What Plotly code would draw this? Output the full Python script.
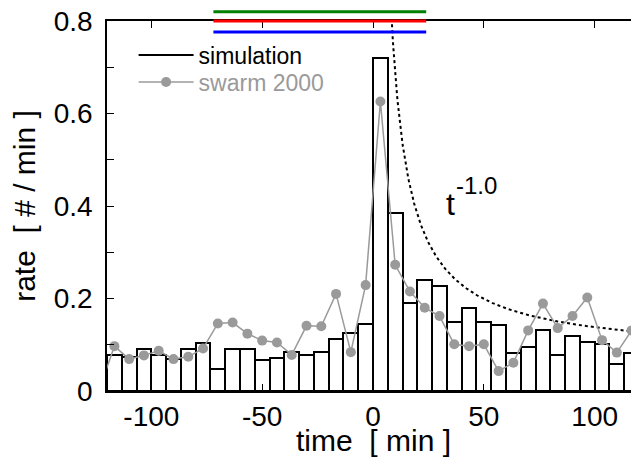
import numpy as np
import plotly.graph_objects as go

# ---- data ----
bin_width = 20.0 / 3.0          # minutes
first_bin_left = -120.0
simulation_rate = [0.077, 0.074, 0.090, 0.077, 0.069, 0.090, 0.103, 0.047, 0.090,
                   0.090, 0.066, 0.071, 0.084, 0.077, 0.084, 0.113, 0.126, 0.144,
                   0.719, 0.384, 0.191, 0.240, 0.227, 0.149, 0.179, 0.149, 0.143,
                   0.083, 0.095, 0.131, 0.077, 0.119, 0.107, 0.101, 0.059, 0.083]
swarm_rate = [0.005,
              0.097, 0.069, 0.077, 0.087, 0.069, 0.074, 0.092, 0.146, 0.148,
              0.124, 0.109, 0.105, 0.078, 0.141, 0.140, 0.210, 0.084, 0.229,
              0.626, 0.273, 0.215, 0.180, 0.162, 0.101, 0.097, 0.101, 0.043,
              0.061, 0.131, 0.189, 0.136, 0.162, 0.202, 0.110, 0.083, 0.131,
              0.020]
powerlaw_A = 6.1
powerlaw_bg = 0.077
powerlaw_exponent = -1.0

x_range = [-120, 120]
y_range = [0, 0.8]
x_ticks = [-100, -50, 0, 50, 100]
x_ticktext = ["-100", "-50", "0", "50", "100"]
y_ticks = [0, 0.1, 0.2, 0.3, 0.4, 0.5, 0.6, 0.7, 0.8]
y_ticktext = ["0", "", "0.2", "", "0.4", "", "0.6", "", "0.8"]

n_sim = len(simulation_rate)
sim_centers = first_bin_left + bin_width * (np.arange(n_sim) + 0.5)
swarm_centers = first_bin_left + bin_width * (np.arange(len(swarm_rate)) - 0.5)
t_curve = np.linspace(7.0, 125.0, 400)
rate_curve = powerlaw_A * t_curve ** powerlaw_exponent + powerlaw_bg

FONT = "Liberation Sans, Arial, Helvetica, sans-serif"
GRAY = "#9a9a9a"
NBSP = "\u00a0"

fig = go.Figure()
fig.add_trace(go.Bar(
    x=sim_centers, y=simulation_rate, width=bin_width,
    marker=dict(color="white", line=dict(color="black", width=2)),
    showlegend=False, hoverinfo="skip"))
fig.add_trace(go.Scatter(
    x=t_curve, y=rate_curve, mode="lines",
    line=dict(color="black", width=2, dash="dot"),
    showlegend=False, hoverinfo="skip"))
fig.add_trace(go.Scatter(
    x=[None], y=[None], mode="lines", name="simulation",
    line=dict(color="black", width=2), legend="legend"))
fig.add_trace(go.Scatter(
    x=swarm_centers, y=swarm_rate, mode="lines+markers",
    name="swarm 2000", legend="legend2",
    line=dict(color=GRAY, width=1.5),
    marker=dict(color=GRAY, size=10)))

fig.add_annotation(x=32.2, y=0.404, xref="x", yref="y", text="t",
                   showarrow=False, xanchor="left", yanchor="middle",
                   font=dict(size=32, color="black", family=FONT))
fig.add_annotation(x=36.4, y=0.444, xref="x", yref="y", text="-1.0",
                   showarrow=False, xanchor="left", yanchor="middle",
                   font=dict(size=24, color="black", family=FONT))
fig.add_annotation(x=0.5, y=-0.135, xref="paper", yref="paper",
                   text="time" + NBSP + " [ min ]", showarrow=False,
                   xanchor="center", yanchor="middle",
                   font=dict(size=30, color="black", family=FONT))
# diagnostic lines
fig.add_shape(type="line", xref="paper", yref="paper", x0=0.2, x1=0.6, y0=1, y1=1,
              line=dict(color="red", width=3), layer="above")
fig.add_shape(type="line", xref="paper", yref="paper", x0=0.2, x1=0.6, y0=1.025, y1=1.025,
              line=dict(color="green", width=3), layer="above")
fig.add_shape(type="line", xref="paper", yref="paper", x0=0.2, x1=0.6, y0=0.97, y1=0.97,
              line=dict(color="blue", width=3), layer="above")

legend_common = dict(xanchor="left", yanchor="middle", itemwidth=55,
                     bgcolor="rgba(0,0,0,0)", borderwidth=0)

fig.update_layout(
    width=631, height=456,
    margin=dict(l=99, r=0, t=13, b=73, autoexpand=False),
    paper_bgcolor="white", plot_bgcolor="white",
    font=dict(family=FONT, size=28, color="black"),
    bargap=0,
    showlegend=True,
    legend=dict(x=0.050, y=0.908,
                font=dict(size=23, color="black", family=FONT),
                **legend_common),
    legend2=dict(x=0.050, y=0.835,
                 font=dict(size=23, color=GRAY, family=FONT),
                 **legend_common),
)
axis_common = dict(ticks="inside", ticklen=7, tickwidth=1.2, tickcolor="black",
                   showline=True, linecolor="black", linewidth=1.5,
                   mirror="ticks", showgrid=False, zeroline=False,
                   ticklabeloverflow="allow")
fig.update_layout(
    xaxis=dict(range=x_range, tickvals=x_ticks, ticktext=x_ticktext,
               tickfont=dict(size=28), **axis_common),
    yaxis=dict(range=y_range, tickvals=y_ticks, ticktext=y_ticktext,
               ticklabelstandoff=7,
               title=dict(text="rate" + NBSP + " [ # / min ]", standoff=10,
                          font=dict(size=30)),
               tickfont=dict(size=28), **axis_common),
)

fig.write_html("out.html")
